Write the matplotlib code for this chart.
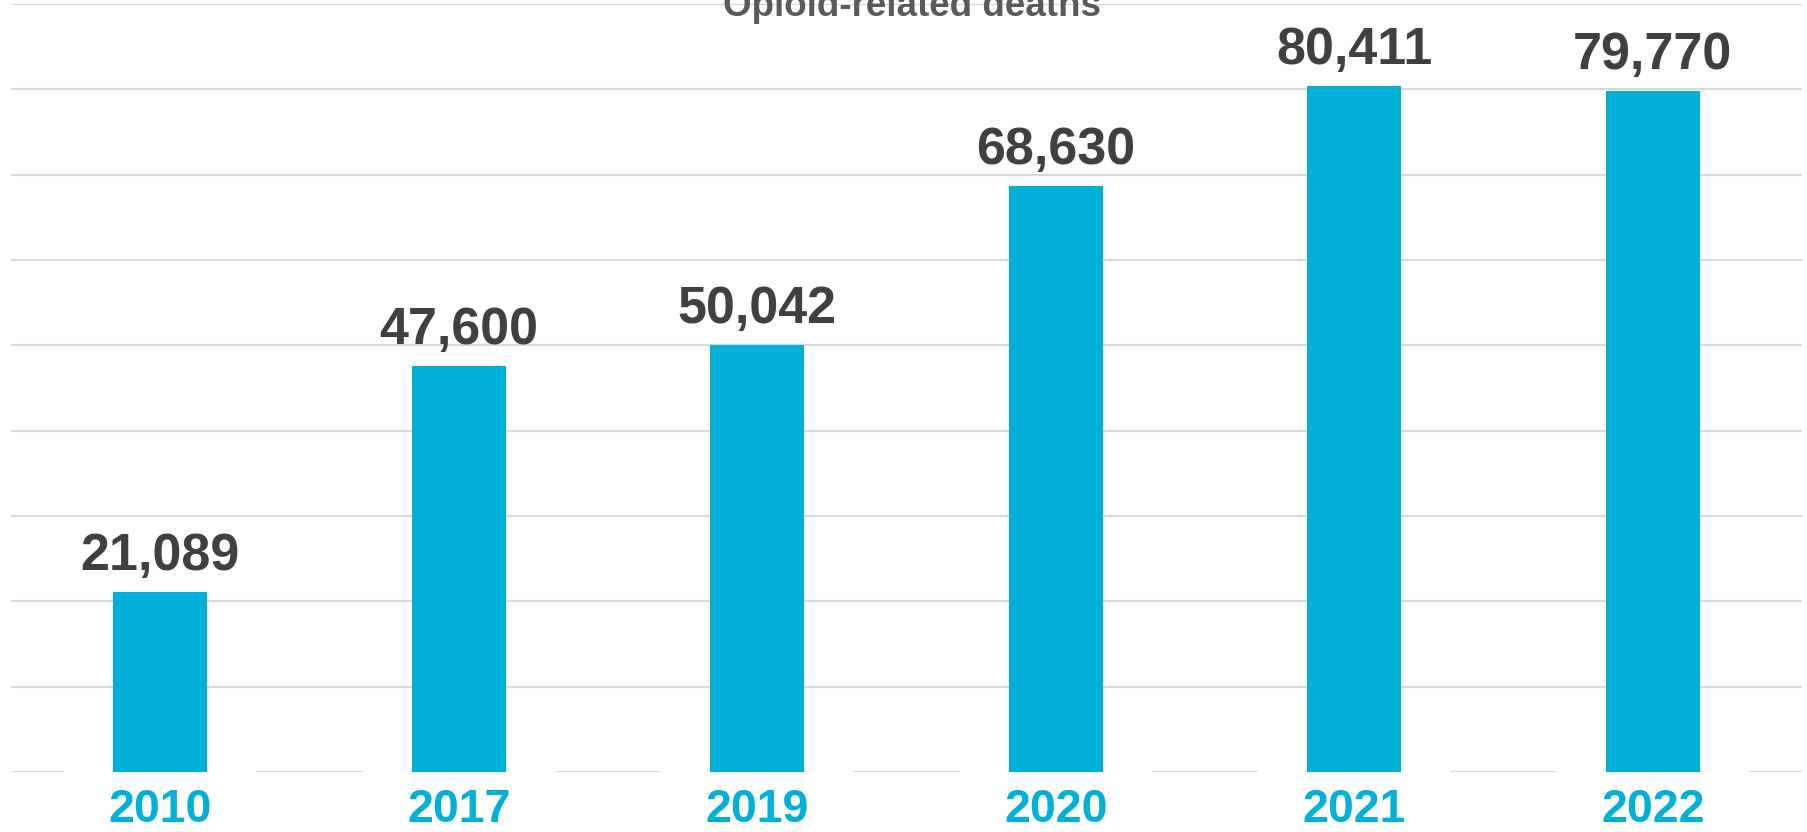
import matplotlib
matplotlib.use("Agg")
from matplotlib import pyplot as plt
import numpy as np

# opioid-related deaths by year
years = ['2010', '2017', '2019', '2020', '2021', '2022']
deaths = [21089, 47600, 50042, 68630, 80411, 79770]
value_labels = ['21,089', '47,600', '50,042', '68,630', '80,411', '79,770']

bar_color = '#00B0D8'
label_color = '#404040'
grid_color = '#D9D9D9'

plt.rcParams['font.family'] = ['Liberation Sans', 'DejaVu Sans']
plt.rcParams['font.weight'] = 'bold'

fig = plt.figure(figsize=(18.07, 8.32), dpi=100)
ax = fig.add_axes([11 / 1807, 60 / 832, 1791 / 1807, 768 / 832])

x = np.arange(len(years))
ax.bar(x, deaths, width=0.315, color=bar_color, zorder=1)

ax.set_xlim(-0.5, len(years) - 0.5)
ax.set_ylim(0, 90000)
ax.set_yticks(np.arange(0, 90001, 10000))
ax.set_axisbelow(True)
ax.yaxis.grid(True, color=grid_color, linewidth=1.5)
ax.tick_params(left=False, bottom=False, labelleft=False, labelbottom=False)
for s in ax.spines.values():
    s.set_visible(False)

# value labels above bars
for xi, v, lab in zip(x, deaths, value_labels):
    ax.annotate(lab, xy=(xi, v), xytext=(0, 16), textcoords='offset points',
                ha='center', va='baseline', fontsize=37.5, fontweight='bold',
                color=label_color, annotation_clip=False)

# year labels; white box breaks the baseline like in the original slide
for xi, yr in zip(x, years):
    ax.annotate(yr, xy=(xi, 0), xytext=(0, -36), textcoords='offset points',
                ha='center', va='baseline', fontsize=33.5, fontweight='bold',
                color=bar_color, annotation_clip=False, zorder=0.8,
                bbox=dict(boxstyle='square,pad=0.95', fc='white', ec='none'))

fig.text(912 / 1807, 1 - 15.5 / 832, 'Opioid-related deaths', ha='center',
         va='baseline', fontsize=26.5, fontweight='bold', color='#595959')

fig.savefig('out.png', dpi=100)
